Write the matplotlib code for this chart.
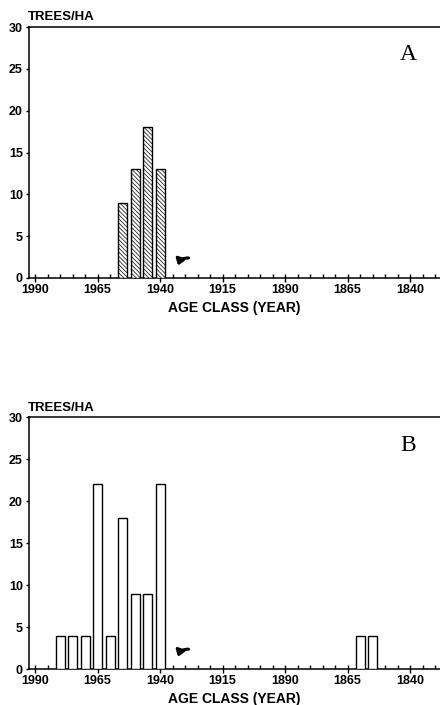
import numpy as np
import matplotlib
matplotlib.use('Agg')
import matplotlib.pyplot as plt
from matplotlib.ticker import MultipleLocator

# age class (year) and trees per hectare
years_a = [1955, 1950, 1945, 1940]
trees_a = [9, 13, 18, 13]

years_b = [1980, 1975, 1970, 1965, 1960, 1955, 1950, 1945, 1940, 1860, 1855]
trees_b = [4, 4, 4, 22, 4, 18, 9, 9, 22, 4, 4]

xticks = [1990, 1965, 1940, 1915, 1890, 1865, 1840]
yticks = [0, 5, 10, 15, 20, 25, 30]

plt.rcParams['font.family'] = ['Liberation Sans', 'DejaVu Sans']
plt.rcParams['hatch.linewidth'] = 0.5

fig = plt.figure(figsize=(4.4, 7.05), dpi=100)
ax_a = fig.add_axes([29/440, 1 - 278/705, 1 - 29/440, 251/705])
ax_b = fig.add_axes([29/440, 1 - 669.3/705, 1 - 29/440, 252/705])


def style(ax, letter):
    ax.set_xlim(1992.4, 1828.0)
    ax.set_ylim(0, 30)
    ax.set_xticks(xticks)
    ax.xaxis.set_minor_locator(MultipleLocator(5))
    ax.set_yticks(yticks)
    for s in ['left', 'bottom', 'top']:
        ax.spines[s].set_linewidth(1.1)
    ax.spines['right'].set_visible(False)
    ax.tick_params(axis='x', which='major', direction='inout', length=6,
                   width=1, labelsize=9, pad=1)
    ax.tick_params(axis='x', which='minor', direction='in', length=3, width=1)
    ax.tick_params(axis='y', direction='out', length=2.5, width=1,
                   labelsize=9, pad=2)
    for lab in ax.get_xticklabels() + ax.get_yticklabels():
        lab.set_fontweight('bold')
    ax.set_xlabel('AGE CLASS (YEAR)', fontsize=10, fontweight='bold', labelpad=4)
    ax.text(-0.003, 1.015, 'TREES/HA', transform=ax.transAxes, fontsize=9.5,
            fontweight='bold', ha='left', va='bottom')
    ax.text(0.922, 0.89, letter, transform=ax.transAxes, fontsize=17,
            family='Liberation Serif', ha='center', va='center')
    # curved arrow marker
    ax.annotate('', xy=(1932.8, 1.5), xytext=(1928.6, 2.4),
                arrowprops=dict(arrowstyle='-|>,head_length=0.35,head_width=0.25',
                                connectionstyle='arc3,rad=0.35', lw=2.2,
                                color='black', shrinkA=0, shrinkB=0))


ax_a.bar(years_a, trees_a, width=3.6, color='white', edgecolor='black',
         linewidth=1.0, hatch='\\\\\\\\\\\\\\\\', zorder=3)
ax_b.bar(years_b, trees_b, width=3.6, color='white', edgecolor='black',
         linewidth=1.0, zorder=3)

style(ax_a, 'A')
style(ax_b, 'B')

fig.savefig('out.png', dpi=100)
